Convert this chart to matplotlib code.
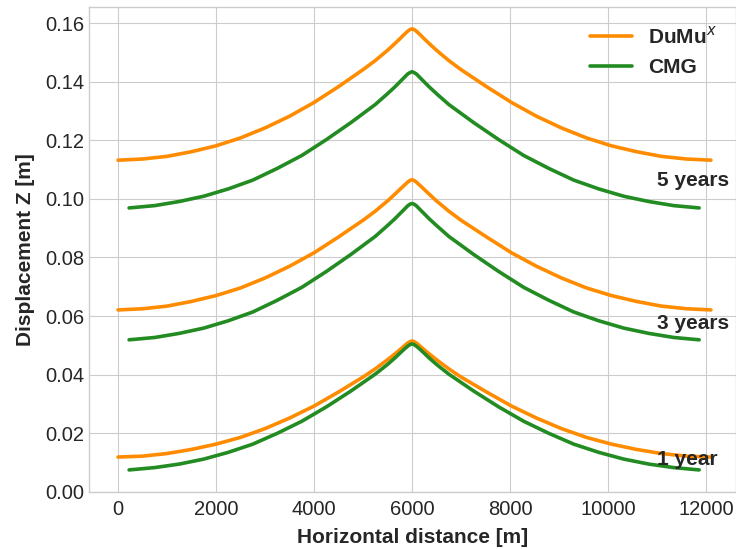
import matplotlib
matplotlib.use("Agg")
import matplotlib.pyplot as plt

# horizontal positions [m]
x_dumu = [0, 500, 1000, 1500, 2000, 2500, 3000, 3500, 4000, 4500, 5000, 5250, 5500, 5650, 5750,
          5840, 5910, 5960, 6000,
          6040, 6090, 6160, 6250, 6350, 6500, 6750, 7000, 7520, 8030, 8540, 9050, 9560, 10070,
          10580, 11090, 11600, 12100]
x_cmg = [225, 750, 1250, 1750, 2250, 2750, 3250, 3750, 4250, 4750, 5250, 5500, 5650, 5750,
         5840, 5910, 5960, 6000,
         6040, 6090, 6160, 6250, 6350, 6500, 6750, 7260, 7770, 8280, 8790, 9300, 9810, 10320,
         10830, 11340, 11860]

# vertical displacement [m]
dumu_1yr = [0.0119, 0.0122, 0.0131, 0.0145, 0.0163, 0.0186, 0.0216, 0.0252, 0.0293, 0.0341, 0.0392,
            0.0420, 0.0451, 0.0471, 0.0485, 0.0498, 0.0508, 0.0513, 0.0515,
            0.0513, 0.0508, 0.0498, 0.0485, 0.0471, 0.0451, 0.0420, 0.0392, 0.0341, 0.0293, 0.0252,
            0.0216, 0.0186, 0.0163, 0.0145, 0.0131, 0.0122, 0.0119]
dumu_3yr = [0.0621, 0.0625, 0.0634, 0.0650, 0.0670, 0.0696, 0.0730, 0.0770, 0.0816, 0.0870, 0.0927,
            0.0958, 0.0993, 0.1016, 0.1032, 0.1046, 0.1057, 0.1063, 0.1065,
            0.1063, 0.1057, 0.1046, 0.1032, 0.1016, 0.0993, 0.0958, 0.0927, 0.0870, 0.0816, 0.0770,
            0.0730, 0.0696, 0.0670, 0.0650, 0.0634, 0.0625, 0.0621]
dumu_5yr = [0.1132, 0.1136, 0.1145, 0.1161, 0.1181, 0.1208, 0.1242, 0.1282, 0.1329, 0.1383, 0.1441,
            0.1472, 0.1507, 0.1530, 0.1546, 0.1561, 0.1572, 0.1578, 0.1580,
            0.1578, 0.1572, 0.1561, 0.1546, 0.1530, 0.1507, 0.1472, 0.1441, 0.1383, 0.1329, 0.1282,
            0.1242, 0.1208, 0.1181, 0.1161, 0.1145, 0.1136, 0.1132]

cmg_1yr = [0.0075, 0.0083, 0.0095, 0.0112, 0.0135, 0.0163, 0.0200, 0.0241, 0.0290, 0.0344, 0.0402,
           0.0435, 0.0457, 0.0473, 0.0487, 0.0497, 0.0503, 0.0505,
           0.0503, 0.0497, 0.0487, 0.0473, 0.0457, 0.0435, 0.0402, 0.0344, 0.0290, 0.0241, 0.0200,
           0.0163, 0.0135, 0.0112, 0.0095, 0.0083, 0.0075]
cmg_3yr = [0.0519, 0.0527, 0.0541, 0.0559, 0.0584, 0.0614, 0.0654, 0.0698, 0.0752, 0.0810, 0.0872,
           0.0909, 0.0932, 0.0949, 0.0964, 0.0976, 0.0982, 0.0984,
           0.0982, 0.0976, 0.0964, 0.0949, 0.0932, 0.0909, 0.0872, 0.0810, 0.0752, 0.0698, 0.0654,
           0.0614, 0.0584, 0.0559, 0.0541, 0.0527, 0.0519]
cmg_5yr = [0.0969, 0.0977, 0.0991, 0.1009, 0.1034, 0.1064, 0.1104, 0.1148, 0.1202, 0.1260, 0.1322,
           0.1359, 0.1382, 0.1399, 0.1414, 0.1426, 0.1431, 0.1434,
           0.1431, 0.1426, 0.1414, 0.1399, 0.1382, 0.1359, 0.1322, 0.1260, 0.1202, 0.1148, 0.1104,
           0.1064, 0.1034, 0.1009, 0.0991, 0.0977, 0.0969]

labels = ["1 year", "3 years", "5 years"]
label_x = 11000
label_y = [0.0109, 0.0573, 0.1061]

plt.style.use("seaborn-v0_8-whitegrid")
plt.rcParams['font.family'] = ['Liberation Sans', 'DejaVu Sans']

fig = plt.figure(figsize=(7.36, 5.49), dpi=100)
ax = fig.add_axes([0.121, 0.104, 0.879, 0.8834])

lw = 2.6
ax.plot(x_dumu, dumu_1yr, color='darkorange', lw=lw, label=r"DuMu$^x$")
ax.plot(x_cmg, cmg_1yr, color='forestgreen', lw=lw, label="CMG")
ax.plot(x_dumu, dumu_3yr, color='darkorange', lw=lw)
ax.plot(x_cmg, cmg_3yr, color='forestgreen', lw=lw)
ax.plot(x_dumu, dumu_5yr, color='darkorange', lw=lw)
ax.plot(x_cmg, cmg_5yr, color='forestgreen', lw=lw)

for lab, yy in zip(labels, label_y):
    ax.text(label_x, yy, lab, fontsize=15, fontweight='bold', color='.15', ha='left', va='center')

ax.set_xlim(-592, 12612)
ax.set_ylim(0, 0.1655)
ax.set_yticks([0.0, 0.02, 0.04, 0.06, 0.08, 0.10, 0.12, 0.14, 0.16])
ax.set_yticklabels(["%.2f" % v for v in ax.get_yticks()])
ax.tick_params(labelsize=14.5)
ax.tick_params(axis='x', pad=6)
ax.set_xlabel("Horizontal distance [m]", fontsize=15, fontweight='bold', labelpad=6)
ax.set_ylabel("Displacement Z [m]", fontsize=15, fontweight='bold', labelpad=7)
ax.legend(loc='upper right', prop={'size': 15, 'weight': 'bold'})

fig.savefig("out.png", dpi=100)
